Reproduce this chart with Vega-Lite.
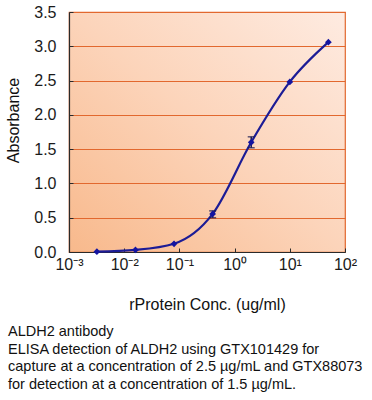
{
  "$schema": "https://vega.github.io/schema/vega-lite/v6.json",
  "width": 276,
  "height": 240,
  "autosize": {"type": "none"},
  "padding": {"left": 69, "top": 12, "right": 27, "bottom": 148},
  "background": "white",
  "config": {
    "font": "Liberation Sans",
    "view": {
      "stroke": "#e2682e",
      "strokeWidth": 1.2,
      "fill": {
        "gradient": "linear",
        "x1": 0, "y1": 1, "x2": 1, "y2": 0,
        "stops": [
          {"offset": 0, "color": "#f8b98c"},
          {"offset": 0.5, "color": "#fcd4ba"},
          {"offset": 1, "color": "#feebe1"}
        ]
      }
    }
  },
  "title": {
    "text": [
      "ALDH2 antibody",
      "ELISA detection of ALDH2 using GTX101429 for",
      "capture at a concentration of 2.5 µg/mL and GTX88073",
      "for detection at a concentration of 1.5 µg/mL."
    ],
    "orient": "bottom",
    "anchor": "start",
    "frame": "group",
    "dx": -61,
    "offset": 13,
    "fontSize": 14.5,
    "fontWeight": "normal",
    "lineHeight": 17.7,
    "color": "#111111",
    "font": "Liberation Sans"
  },
  "data": {
    "values": [
      {"conc": 0.0032, "abs": 0.005, "lo": 0.005, "hi": 0.005},
      {"conc": 0.016, "abs": 0.03, "lo": 0.03, "hi": 0.03},
      {"conc": 0.08, "abs": 0.12, "lo": 0.12, "hi": 0.12},
      {"conc": 0.4, "abs": 0.555, "lo": 0.5, "hi": 0.6},
      {"conc": 2, "abs": 1.6, "lo": 1.52, "hi": 1.68},
      {"conc": 10, "abs": 2.48, "lo": 2.48, "hi": 2.48},
      {"conc": 50, "abs": 3.06, "lo": 3.06, "hi": 3.06}
    ]
  },
  "encoding": {
    "x": {
      "field": "conc",
      "type": "quantitative",
      "scale": {"type": "log", "domain": [0.001, 100], "nice": false},
      "axis": {
        "title": "rProtein Conc. (ug/ml)",
        "values": [0.001, 0.01, 0.1, 1, 10, 100],
        "labelExpr": "datum.value < 0.005 ? '10⁻³' : datum.value < 0.05 ? '10⁻²' : datum.value < 0.5 ? '10⁻¹' : datum.value < 5 ? '10⁰' : datum.value < 50 ? '10¹' : '10²'",
        "grid": false,
        "domainColor": "#2a2a2a",
        "domainWidth": 1.2,
        "tickColor": "#2a2a2a",
        "tickSize": -4,
        "labelFontSize": 16,
        "labelColor": "#1a1a1a",
        "labelPadding": 8,
        "labelFlush": false,
        "titleFontSize": 16,
        "titleFontWeight": "normal",
        "titleColor": "#111111",
        "titleBaseline": "alphabetic",
        "titleY": 57
      }
    },
    "y": {
      "field": "abs",
      "type": "quantitative",
      "scale": {"domain": [0, 3.5], "nice": false},
      "axis": {
        "title": "Absorbance",
        "values": [0, 0.5, 1, 1.5, 2, 2.5, 3, 3.5],
        "format": ".1f",
        "grid": true,
        "gridColor": "#e2682e",
        "gridWidth": 1.2,
        "gridOpacity": 1,
        "domainColor": "#2a2a2a",
        "domainWidth": 1.2,
        "tickColor": "#2a2a2a",
        "tickSize": -4,
        "labelFontSize": 16,
        "labelColor": "#1a1a1a",
        "labelPadding": 17,
        "labelFlush": false,
        "titleFontSize": 16,
        "titleFontWeight": "normal",
        "titleColor": "#111111",
        "titleAngle": -90,
        "titleAlign": "center",
        "titleBaseline": "alphabetic",
        "titleX": -51,
        "titleY": 108
      }
    }
  },
  "layer": [
    {
      "mark": {"type": "line", "interpolate": "monotone", "color": "#1c1c96", "strokeWidth": 2.2}
    },
    {
      "transform": [{"filter": "datum.hi > datum.lo"}],
      "mark": {"type": "errorbar", "ticks": {"size": 7, "thickness": 1.5}, "color": "#1a1a50", "thickness": 1.5},
      "encoding": {
        "y": {"field": "lo", "type": "quantitative"},
        "y2": {"field": "hi"}
      }
    },
    {
      "mark": {"type": "point", "shape": "diamond", "filled": true, "color": "#1414a0", "size": 45, "opacity": 1}
    }
  ]
}
